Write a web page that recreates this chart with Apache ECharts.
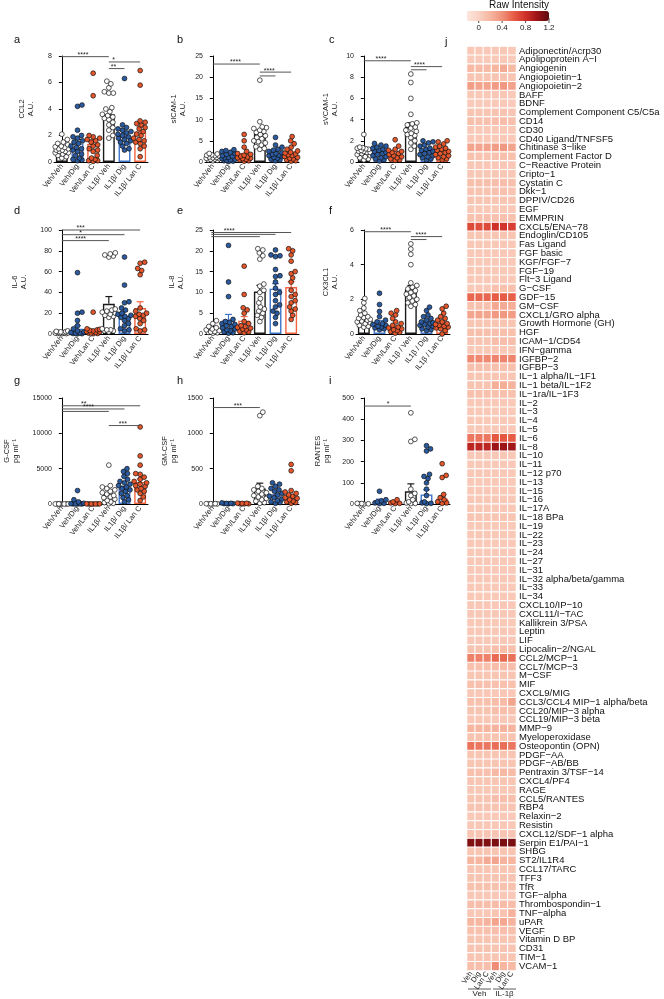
<!DOCTYPE html>
<html><head><meta charset="utf-8">
<script src="https://cdn.jsdelivr.net/npm/echarts/dist/echarts.min.js"></script>
<style>html,body{margin:0;padding:0;background:#fff}#c{width:664px;height:999px}</style>
</head><body><div id="c"></div>
<script>
// ---------- categories ----------
const groupLabels = ['Veh/Veh','Veh/Dig','Veh/Lan C','IL1β/ Veh','IL1β/ Dig','IL1β/ Lan C'];
const groupLabelsF = ['Veh/Veh','Veh/Dig','Veh/Lan C','IL1β / Veh','IL1β / Dig','IL1β / Lan C'];

// ---------- panel a: CCL2 ----------
const ccl2Means = [0.95,1.4,1.35,3.6,2.0,2.3];
const ccl2Sems  = [0.1,0.3,0.35,0.3,0.25,0.35];
const ccl2Points = [
 [2.1,1.7,1.5,1.4,1.3,1.2,1.15,1.1,1.0,1.0,0.9,0.9,0.8,0.8,0.7,0.7,0.6,0.5,0.4,0.3],
 [4.3,4.2,2.4,2.0,1.9,1.8,1.6,1.5,1.4,1.2,1.1,1.0,0.9,0.8,0.6,0.5,0.3,0.2,0.15,0.1],
 [6.7,5.0,2.0,1.9,1.8,1.7,1.6,1.5,1.3,1.2,1.0,0.9,0.8,0.5,0.3,0.2,0.1,0.1,0.05],
 [6.1,5.9,5.6,5.3,5.2,5.2,4.1,4.0,3.8,3.6,3.5,3.4,3.3,3.2,3.0,2.8,2.6,2.4,2.0,1.8],
 [6.3,2.8,2.6,2.5,2.4,2.3,2.2,2.1,2.0,1.9,1.8,1.7,1.6,1.5,1.4,1.2,1.0,0.9],
 [6.9,5.8,3.1,3.0,2.9,2.8,2.6,2.5,2.3,2.1,2.0,1.8,1.7,1.6,1.5,1.4,1.2,1.0,0.4]
];
const ccl2Sig = [[0,3,7.95,'****',1.35],[3,5,7.55,'*',3.3],[3,4,7.05,'**',3.3]];

// ---------- panel b: sICAM-1 ----------
const sicamMeans = [1.2,1.3,1.6,6.7,2.0,2.0];
const sicamSems  = [0.15,0.2,0.4,0.8,0.35,0.4];
const sicamPoints = [
 [2.0,1.9,1.7,1.6,1.5,1.4,1.2,1.1,1.0,0.9,0.8,0.7,0.6,0.5,0.4,0.3],
 [2.9,2.7,2.5,2.3,2.0,1.8,1.5,1.3,1.1,1.0,0.8,0.6,0.5,0.4,0.3,0.2,0.1],
 [6.5,5.0,3.5,2.5,2.0,1.8,1.6,1.4,1.2,1.0,0.9,0.8,0.6,0.5,0.3,0.2],
 [19.3,9.5,8.3,8.1,7.9,7.5,7.2,7.0,6.5,6.2,5.8,5.5,5.0,4.8,4.5,4.0,3.6,3.2,3.0],
 [5.8,4.0,3.5,3.0,2.8,2.5,2.2,2.0,1.8,1.6,1.5,1.3,1.1,0.9,0.7,0.5,0.3],
 [6.0,5.0,4.3,3.5,3.0,2.6,2.3,2.1,1.9,1.7,1.5,1.3,1.1,0.9,0.7,0.5,0.3,0.2]
];
const sicamSig = [[0,3,23.1,'****',1.45],[3,5,21.2,'****',3.6],[3,4,20.3,'',0]];

// ---------- panel c: sVCAM-1 ----------
const svcamMeans = [1.05,0.95,0.75,3.3,0.95,1.0];
const svcamSems  = [0.1,0.1,0.12,0.4,0.12,0.12];
const svcamPoints = [
 [2.6,1.4,1.35,1.3,1.25,1.2,1.1,1.0,1.0,0.9,0.9,0.8,0.7,0.6,0.5,0.4,0.3,0.2],
 [1.75,1.6,1.5,1.4,1.3,1.2,1.1,1.0,0.9,0.8,0.7,0.6,0.5,0.4,0.3,0.2,0.1],
 [2.1,1.5,1.2,1.1,1.0,0.9,0.8,0.7,0.6,0.5,0.4,0.3,0.2,0.15],
 [8.3,7.5,6.0,4.5,3.7,3.6,3.5,3.3,3.2,3.0,2.9,2.7,2.6,2.5,2.3,2.0,1.8,1.5,1.2],
 [2.0,1.9,1.8,1.6,1.5,1.3,1.2,1.1,1.0,0.9,0.8,0.7,0.6,0.5,0.4,0.3,0.2],
 [2.0,1.9,1.7,1.5,1.4,1.3,1.2,1.1,1.0,0.9,0.8,0.7,0.6,0.5,0.4,0.3,0.2]
];
const svcamSig = [[0,3,9.55,'****',1.1],[3,5,9.0,'****',3.55],[3,4,8.7,'',0]];

// ---------- panel d: IL-6 ----------
const il6Means = [1.5,5,2.5,29,17,25];
const il6Sems  = [0.3,3,1.2,7,5,6];
const il6Points = [
 [3,2.5,2.2,2,1.8,1.5,1.2,1.0,0.8,0.6,0.5,0.4,0.3],
 [59,21,20,13,8,5,3,2,1.5,1,0.8,0.5,0.3,0.2],
 [21,5,4.5,4,3.5,3,2.5,2,1.5,1,0.8,0.5,0.3],
 [78,77,76,75,74,24,23,22,21,20,19,18,17,16,5,4,4,3,3,2],
 [74,47,31,30,25,23,20,19,18,17,16,15,13,10,8,5,4,3],
 [69,68,63,61,57,25,22,20,19,18,17,15,13,10,5,4,3]
];
const il6Sig = [[0,5,100,'***',1.2],[0,4,95.5,'*',1.2],[0,3,89.8,'****',1.2]];

// ---------- panel e: IL-8 ----------
const il8Means = [0.9,3.4,3.2,10.2,10.9,11.3];
const il8Sems  = [0.2,1.3,1.0,1.5,1.2,1.3];
const il8Points = [
 [3.2,2.5,1.8,1.5,1.2,1.0,0.8,0.6,0.5,0.4,0.3,0.2],
 [21.3,12.5,9.0,3.5,3.0,2.8,2.5,2.3,2.0,1.8,1.5,1.2,1.0,0.8,0.5,0.3,0.2],
 [16.3,9.5,6.3,5.8,5.0,3.0,2.5,2.0,1.8,1.6,1.4,1.2,1.0,0.7,0.5,0.3],
 [20.5,20.2,19.5,18.8,18.0,12.0,11.5,10.5,10.0,8.5,7.5,6.5,6.0,5.5,5.0,4.5,4.0,3.0],
 [20.2,19.0,18.8,18.6,15.5,14.0,13.8,12.5,11.0,10.0,9.5,8.0,7.0,6.5,5.5,5.0,4.0,2.5],
 [20.5,20.0,19.0,17.5,15.0,14.5,13.5,12.5,10.5,9.5,9.0,8.0,7.5,6.5,6.0,5.5,4.5,3.5]
];
const il8Sig = [[-0.1,5,24.4,'****',1.05],[-0.1,4,23.95,'',0],[-0.1,3,23.4,'',0]];

// ---------- panel f: CX3CL1 ----------
const cx3Means = [0.95,0.65,0.4,2.55,0.65,0.6];
const cx3Sems  = [0.08,0.12,0.08,0.25,0.08,0.09];
const cx3Points = [
 [2.05,1.8,1.5,1.35,1.2,1.1,1.0,0.95,0.9,0.85,0.8,0.75,0.7,0.65,0.6,0.5,0.45,0.4],
 [2.35,1.7,1.3,1.0,0.8,0.7,0.6,0.55,0.5,0.45,0.4,0.35,0.3,0.25],
 [1.35,1.2,1.1,0.9,0.7,0.6,0.5,0.4,0.35,0.3,0.25,0.2,0.15,0.1,0.05],
 [5.2,4.9,4.6,4.0,2.95,2.8,2.7,2.6,2.5,2.4,2.3,2.2,2.1,2.0,1.9,1.8,1.7,1.6],
 [1.55,1.35,1.1,1.0,0.9,0.8,0.7,0.65,0.6,0.55,0.5,0.45,0.4,0.3,0.25,0.2],
 [1.6,1.45,1.2,1.0,0.9,0.8,0.7,0.6,0.55,0.5,0.45,0.4,0.35,0.3,0.2,0.0]
];
const cx3Sig = [[0,3,5.9,'****',1.4],[3,5,5.62,'****',3.65],[3,4,5.45,'',0]];

// ---------- panel g: G-CSF ----------
const gcsfMeans = [10,300,12,1300,2200,3100];
const gcsfSems  = [5,180,5,300,300,450];
const gcsfPoints = [
 [20,15,10,8,5,5,3,2],
 [1900,600,300,100,50,30,20,10,5,5],
 [30,20,15,10,8,5,3],
 [5500,2600,2400,2200,2000,1800,1600,1400,1200,1000,900,700,500,300,200,100,50],
 [5000,4600,4300,3900,3500,3200,3000,2800,2600,2400,2200,2000,1800,1500,1200,900,600,300],
 [10900,6800,5500,4300,4200,3800,3500,3200,3000,2800,2600,2500,2200,2000,1800,1500,1000,500]
];
const gcsfSig = [[0,5,13900,'**',1.4],[0,4,13450,'****',1.7],[0,3,13100,'',0],[3,5,11100,'***',3.9]];

// ---------- panel h: GM-CSF ----------
const gmcsfMeans = [3,8,7,220,110,90];
const gmcsfSems  = [1,2,2,75,22,35];
const gmcsfPoints = [
 [5,4,3,2,2,1],
 [15,10,8,6,5,3],
 [12,10,8,5,3,2],
 [1300,1250,250,220,200,180,160,140,120,100,80,60,40,20,10],
 [300,280,250,220,200,180,150,130,110,90,70,50,30,20,10],
 [560,470,190,170,150,130,110,90,80,60,40,30,20,10]
];
const gmcsfSig = [[0,3,1365,'***',1.6]];

// ---------- panel i: RANTES ----------
const rantesMeans = [1,15,6,60,45,25];
const rantesSems  = [0.5,8,3,35,22,13];
const rantesPoints = [
 [3,2,1,1,0],
 [60,20,15,10,5,3,2],
 [20,10,5,3,2],
 [430,305,295,70,50,40,20,10,5,3,2],
 [275,260,250,140,130,120,100,70,40,10,5,3,2],
 [190,135,125,45,30,20,10,5,3]
];
const rantesSig = [[0,3,462,'*',1.55]];

// ---------- axis maxima ----------
const panelMax = [8,25,10,100,25,6,15000,1500,500];
const panelInterval = [2,5,2,20,5,2,5000,500,100];
const panelNames = ['CCL2\nA.U.','sICAM-1\nA.U.','sVCAM-1\nA.U.','IL-6\nA.U.','IL-8\nA.U.','CX3CL1\nA.U.','G-CSF\npg ml⁻¹','GM-CSF\npg ml⁻¹','RANTES\npg ml⁻¹'];
const panelLetters = ['a','b','c','d','e','f','g','h','i'];

// ---------- heatmap ----------
const heatCols = ['Veh','Dig','Lan C','Veh','Dig','Lan C'];
const heatGroups = ['Veh','IL-1β'];
const heatRows = ['Adiponectin/Acrp30','Apolipoprotein A−I','Angiogenin','Angiopoietin−1','Angiopoietin−2','BAFF','BDNF','Complement Component C5/C5a','CD14','CD30','CD40 Ligand/TNFSF5','Chitinase 3−like','Complement Factor D','C−Reactive Protein','Cripto−1','Cystatin C','Dkk−1','DPPIV/CD26','EGF','EMMPRIN','CXCL5/ENA−78','Endoglin/CD105','Fas Ligand','FGF basic','KGF/FGF−7','FGF−19','Flt−3 Ligand','G−CSF','GDF−15','GM−CSF','CXCL1/GRO alpha','Growth Hormone (GH)','HGF','ICAM−1/CD54','IFN−gamma','IGFBP−2','IGFBP−3','IL−1 alpha/IL−1F1','IL−1 beta/IL−1F2','IL−1ra/IL−1F3','IL−2','IL−3','IL−4','IL−5','IL−6','IL−8','IL−10','IL−11','IL−12 p70','IL−13','IL−15','IL−16','IL−17A','IL−18 BPa','IL−19','IL−22','IL−23','IL−24','IL−27','IL−31','IL−32 alpha/beta/gamma','IL−33','IL−34','CXCL10/IP−10','CXCL11/I−TAC','Kallikrein 3/PSA','Leptin','LIF','Lipocalin−2/NGAL','CCL2/MCP−1','CCL7/MCP−3','M−CSF','MIF','CXCL9/MIG','CCL3/CCL4 MIP−1 alpha/beta','CCL20/MIP−3 alpha','CCL19/MIP−3 beta','MMP−9','Myeloperoxidase','Osteopontin (OPN)','PDGF−AA','PDGF−AB/BB','Pentraxin 3/TSF−14','CXCL4/PF4','RAGE','CCL5/RANTES','RBP4','Relaxin−2','Resistin','CXCL12/SDF−1 alpha','Serpin E1/PAI−1','SHBG','ST2/IL1R4','CCL17/TARC','TFF3','TfR','TGF−alpha','Thrombospondin−1','TNF−alpha','uPAR','VEGF','Vitamin D BP','CD31','TIM−1','VCAM−1'];
const heatValues = [
 [.07,.07,.07,.08,.08,.07],[.06,.06,.06,.07,.07,.06],[.17,.16,.16,.2,.26,.18],[.09,.09,.09,.1,.1,.09],[.33,.3,.3,.34,.36,.31],
 [.07,.07,.07,.08,.08,.07],[.06,.06,.06,.07,.07,.06],[.09,.09,.09,.1,.1,.09],[.13,.12,.12,.14,.15,.13],[.07,.07,.07,.07,.07,.07],
 [.07,.07,.07,.07,.07,.07],[.3,.29,.31,.34,.36,.3],[.12,.11,.11,.12,.13,.12],[.08,.08,.08,.08,.08,.08],[.08,.08,.08,.08,.08,.08],
 [.13,.13,.13,.14,.14,.13],[.11,.11,.11,.12,.12,.11],[.09,.09,.09,.09,.09,.09],[.07,.07,.07,.07,.07,.07],[.12,.12,.12,.12,.12,.12],
 [.68,.66,.68,.8,.78,.74],[.09,.09,.09,.09,.09,.09],[.08,.08,.08,.08,.08,.08],[.07,.07,.07,.07,.07,.07],[.07,.07,.07,.07,.07,.07],
 [.07,.07,.07,.07,.07,.07],[.07,.07,.07,.07,.07,.07],[.07,.07,.07,.12,.12,.13],[.56,.56,.56,.6,.6,.58],[.12,.12,.12,.28,.26,.25],
 [.3,.3,.3,.36,.36,.34],[.09,.09,.09,.09,.09,.09],[.13,.13,.13,.13,.13,.13],[.1,.1,.1,.15,.14,.14],[.07,.07,.07,.07,.07,.07],
 [.43,.43,.43,.45,.45,.44],[.13,.13,.13,.13,.13,.13],[.09,.09,.09,.09,.09,.09],[.1,.1,.1,.24,.24,.22],[.12,.12,.12,.12,.12,.12],
 [.07,.07,.07,.07,.07,.07],[.07,.07,.07,.07,.07,.07],[.07,.07,.07,.07,.07,.07],[.07,.07,.07,.07,.07,.07],[.5,.5,.5,.62,.62,.6],
 [.88,.88,.88,1.0,1.0,.98],[.08,.08,.08,.08,.08,.08],[.07,.07,.07,.07,.07,.07],[.07,.07,.07,.07,.07,.07],[.07,.07,.07,.07,.07,.07],
 [.07,.07,.07,.07,.07,.07],[.08,.08,.08,.08,.08,.08],[.08,.08,.08,.08,.08,.08],[.09,.09,.09,.09,.09,.09],[.07,.07,.07,.07,.07,.07],
 [.07,.07,.07,.07,.07,.07],[.07,.07,.07,.07,.07,.07],[.07,.07,.07,.07,.07,.07],[.07,.07,.07,.07,.07,.07],[.07,.07,.07,.07,.07,.07],
 [.08,.08,.08,.08,.08,.08],[.07,.07,.07,.07,.07,.07],[.07,.07,.07,.07,.07,.07],[.08,.08,.08,.08,.08,.08],[.08,.08,.08,.08,.08,.08],
 [.07,.07,.07,.07,.07,.07],[.08,.08,.08,.08,.08,.08],[.08,.08,.08,.08,.08,.08],[.1,.1,.1,.14,.14,.13],[.46,.46,.46,.55,.55,.52],
 [.12,.12,.12,.15,.15,.14],[.09,.09,.09,.09,.09,.09],[.12,.12,.12,.12,.12,.12],[.08,.08,.08,.08,.08,.08],[.12,.12,.12,.15,.16,.3],
 [.1,.1,.1,.14,.14,.13],[.08,.08,.08,.08,.08,.08],[.2,.2,.2,.22,.22,.21],[.1,.1,.1,.1,.1,.1],[.52,.5,.5,.53,.53,.5],
 [.09,.09,.09,.09,.09,.09],[.09,.09,.09,.09,.09,.09],[.12,.12,.12,.18,.18,.16],[.09,.09,.09,.09,.09,.09],[.08,.08,.08,.08,.08,.08],
 [.09,.09,.09,.14,.14,.13],[.1,.1,.1,.1,.1,.1],[.07,.07,.07,.07,.07,.07],[.08,.08,.08,.08,.08,.08],[.09,.09,.09,.09,.09,.09],
 [1.08,1.08,1.08,1.1,1.1,1.1],[.09,.09,.09,.09,.09,.09],[.2,.2,.26,.3,.22,.2],[.09,.09,.09,.09,.09,.09],[.1,.1,.1,.1,.1,.1],
 [.12,.12,.12,.12,.12,.12],[.08,.08,.08,.08,.08,.08],[.14,.14,.14,.16,.16,.15],[.08,.08,.08,.1,.1,.22],[.2,.2,.22,.3,.28,.22],
 [.12,.12,.12,.14,.14,.13],[.1,.1,.1,.1,.1,.1],[.1,.1,.1,.1,.1,.1],[.09,.09,.09,.09,.09,.09],[.14,.14,.14,.42,.2,.18]
];
const colorbarTicks = [0,0.4,0.8,1.2];

// ---------- styling ----------
const FONT = 'Liberation Sans';
const barColors = ['#1a1a1a','#3f74c9','#f26440','#1a1a1a','#3f74c9','#f26440'];
const dotColors = ['#ffffff','#2a5aa0','#e5562b','#ffffff','#2a5aa0','#e5562b'];
const heatColors = ['#fde6dc','#fad2c3','#f6b6a0','#f0917a','#e65c45','#d0302a','#9c1417','#5a0a0c'];
const CB = {left:467, top:11, len:82, thick:10, min:-0.2, max:1.2};

const PW = 94;
const colLeft = [54,205,356];
const rowTop = [56,230,398];
const rowH = [106,104,106];
const letterX = [17,180,332], letterY = [41,212,382];
const nameGaps = [19,18,17,26,20,17,34,27,25];

const panels = [
 {pts:ccl2Points, mean:ccl2Means, sem:ccl2Sems, sig:ccl2Sig, cats:groupLabels},
 {pts:sicamPoints, mean:sicamMeans, sem:sicamSems, sig:sicamSig, cats:groupLabels},
 {pts:svcamPoints, mean:svcamMeans, sem:svcamSems, sig:svcamSig, cats:groupLabels},
 {pts:il6Points, mean:il6Means, sem:il6Sems, sig:il6Sig, cats:groupLabels},
 {pts:il8Points, mean:il8Means, sem:il8Sems, sig:il8Sig, cats:groupLabels},
 {pts:cx3Points, mean:cx3Means, sem:cx3Sems, sig:cx3Sig, cats:groupLabelsF},
 {pts:gcsfPoints, mean:gcsfMeans, sem:gcsfSems, sig:gcsfSig, cats:groupLabels},
 {pts:gmcsfPoints, mean:gmcsfMeans, sem:gmcsfSems, sig:gmcsfSig, cats:groupLabels},
 {pts:rantesPoints, mean:rantesMeans, sem:rantesSems, sig:rantesSig, cats:groupLabels}
];

// deterministic beeswarm layout (pixel collision avoidance)
function swarm(vals, gi, pxPerUnit, catPx, r) {
  const sorted = vals.slice().sort((a,b)=>a-b);
  const placed = [], out = [];
  const maxOff = catPx*0.42, d2 = (2*r)*(2*r);
  for (const v of sorted) {
    const y = v*pxPerUnit;
    let best = null;
    for (let k=0; k<=maxOff && best===null; k+=0.5) {
      for (const s of (k===0?[1]:[1,-1])) {
        const x = s*k;
        if (placed.every(p => (p.x-x)*(p.x-x)+(p.y-y)*(p.y-y) >= d2)) { best = x; break; }
      }
    }
    if (best===null) {
      let bd = -1;
      for (let x=-maxOff; x<=maxOff; x+=0.5) {
        let md = Infinity;
        for (const p of placed) md = Math.min(md, (p.x-x)*(p.x-x)+(p.y-y)*(p.y-y));
        if (md > bd) { bd = md; best = x; }
      }
    }
    placed.push({x:best, y});
    out.push([gi + best/catPx, v, gi]);
  }
  return out;
}

const option = {animation:false, backgroundColor:'#fff', grid:[], xAxis:[], yAxis:[], series:[], graphic:[], visualMap:[]};

panels.forEach((P, p) => {
  const col = p%3, row = Math.floor(p/3);
  const H = rowH[row];
  option.grid.push({left:colLeft[col], top:rowTop[row], width:PW, height:H});
  option.xAxis.push({type:'category', gridIndex:p, data:P.cats,
    axisLine:{lineStyle:{color:'#000', width:1}}, axisTick:{show:false},
    axisLabel:{rotate:52, fontSize:7.5, interval:0, margin:3, color:'#222', fontFamily:FONT}, splitLine:{show:false}});
  option.xAxis.push({type:'value', gridIndex:p, min:-0.5, max:5.5, show:false});
  option.yAxis.push({type:'value', gridIndex:p, min:0, max:panelMax[p], interval:panelInterval[p],
    axisLine:{show:true, lineStyle:{color:'#000', width:1}}, axisTick:{show:true, length:3, lineStyle:{color:'#000'}},
    axisLabel:{fontSize:7, margin:2, color:'#222', fontFamily:FONT, formatter:(v)=>String(v)}, splitLine:{show:false},
    name:panelNames[p], nameLocation:'middle', nameGap:nameGaps[p],
    nameTextStyle:{fontSize:7.5, lineHeight:9, color:'#222', fontFamily:FONT}});
  const xc = 2*p, xv = 2*p+1;
  option.series.push({type:'bar', xAxisIndex:xc, yAxisIndex:p, barWidth:'76%', silent:true, z:2,
    data:P.mean.map((m,i)=>({value:m, itemStyle:{color:'rgba(255,255,255,0)', borderColor:barColors[i], borderWidth:1.4}}))});
  option.series.push({type:'custom', xAxisIndex:xc, yAxisIndex:p, z:3, silent:true,
    data:P.mean.map((m,i)=>[i,m,P.sem[i]]),
    renderItem:(params, api) => {
      const i = api.value(0), m = api.value(1), s = api.value(2);
      const a = api.coord([i, m]), b = api.coord([i, m+s]);
      const w = api.size([1,0])[0]*0.22;
      const st = {stroke:barColors[i], lineWidth:1.2};
      return {type:'group', children:[
        {type:'line', shape:{x1:a[0],y1:a[1],x2:b[0],y2:b[1]}, style:st},
        {type:'line', shape:{x1:b[0]-w,y1:b[1],x2:b[0]+w,y2:b[1]}, style:st}]};
    }});
  const pxPerUnit = H/panelMax[p], catPx = PW/6;
  let dots = [];
  P.pts.forEach((vals, gi) => { dots = dots.concat(swarm(vals, gi, pxPerUnit, catPx, 2.2)); });
  option.series.push({type:'scatter', xAxisIndex:xv, yAxisIndex:p, z:4, silent:true, symbolSize:4.8,
    data:dots, itemStyle:{color:(q)=>dotColors[q.data[2]], borderColor:'#111', borderWidth:0.7, opacity:1}});
  option.series.push({type:'custom', xAxisIndex:xv, yAxisIndex:p, z:5, silent:true,
    data:P.sig.map(s=>[s[0],s[1],s[2],s[4]]),
    renderItem:(params, api) => {
      const a = api.coord([api.value(0), api.value(2)]), b = api.coord([api.value(1), api.value(2)]);
      const t = api.coord([api.value(3), api.value(2)]);
      const lab = P.sig[params.dataIndex][3];
      const ch = [{type:'line', shape:{x1:a[0],y1:a[1],x2:b[0],y2:b[1]}, style:{stroke:'#555', lineWidth:1}}];
      if (lab) ch.push({type:'text', style:{text:lab, x:t[0], y:a[1]+2, textAlign:'center', textVerticalAlign:'bottom', fontSize:7, fill:'#222', fontFamily:FONT}});
      return {type:'group', children:ch};
    }});
  option.graphic.push({type:'text', left:letterX[col]-3, top:letterY[row]-7, style:{text:panelLetters[p], fontSize:11, fill:'#111', fontFamily:FONT}});
});

// heatmap
const hg = 9;
option.grid.push({left:467, top:46.5, width:49, height:924});
option.xAxis.push({type:'category', gridIndex:hg, data:heatCols.map((c,i)=>String(i)),
  axisLine:{show:false}, axisTick:{show:false},
  axisLabel:{rotate:55, interval:0, fontSize:7.5, margin:2, color:'#222', fontFamily:FONT, formatter:(v)=>heatCols[+v]}});
option.yAxis.push({type:'category', gridIndex:hg, data:heatRows, inverse:true, position:'right',
  axisLine:{show:false}, axisTick:{show:false},
  axisLabel:{interval:0, fontSize:9.5, margin:3, color:'#111', fontFamily:FONT}});
const heatData = [];
heatValues.forEach((r, ri) => r.forEach((v, ci) => heatData.push([ci, ri, v])));
option.series.push({type:'heatmap', xAxisIndex:2*9, yAxisIndex:hg, data:heatData, silent:true,
  itemStyle:{borderColor:'#fff', borderWidth:1.1}});
option.visualMap.push({type:'continuous', seriesIndex:option.series.length-1, min:CB.min, max:CB.max,
  orient:'horizontal', left:CB.left, top:CB.top, itemWidth:CB.thick, itemHeight:CB.len, padding:0,
  calculable:false, hoverLink:false, text:null, inRange:{color:heatColors}});
option.graphic.push({type:'text', left:489, top:0, style:{text:'Raw Intensity', fontSize:10, fill:'#111', fontFamily:FONT}});
colorbarTicks.forEach(t => {
  const x = CB.left + (t-CB.min)/(CB.max-CB.min)*CB.len;
  option.graphic.push({type:'line', shape:{x1:x, y1:CB.top+CB.thick-3, x2:x, y2:CB.top+CB.thick+2}, style:{stroke:'#222', lineWidth:0.8}});
  option.graphic.push({type:'text', x:x, y:CB.top+CB.thick+3, style:{text:String(t), textAlign:'center', fontSize:8, fill:'#222', fontFamily:FONT}});
});
option.graphic.push({type:'text', left:445, top:36, style:{text:'j', fontSize:11, fill:'#111', fontFamily:FONT}});
// group labels below heatmap
option.graphic.push({type:'line', shape:{x1:468, y1:989, x2:491, y2:989}, style:{stroke:'#333', lineWidth:0.8}});
option.graphic.push({type:'line', shape:{x1:493, y1:989, x2:516, y2:989}, style:{stroke:'#333', lineWidth:0.8}});
option.graphic.push({type:'text', x:479.5, y:990, style:{text:heatGroups[0], textAlign:'center', fontSize:8, fill:'#222', fontFamily:FONT}});
option.graphic.push({type:'text', x:504.5, y:990, style:{text:heatGroups[1], textAlign:'center', fontSize:8, fill:'#222', fontFamily:FONT}});

const chart = echarts.init(document.getElementById('c'), null, {renderer:'canvas', width:664, height:999});
chart.setOption(option);
</script>
</body></html>
